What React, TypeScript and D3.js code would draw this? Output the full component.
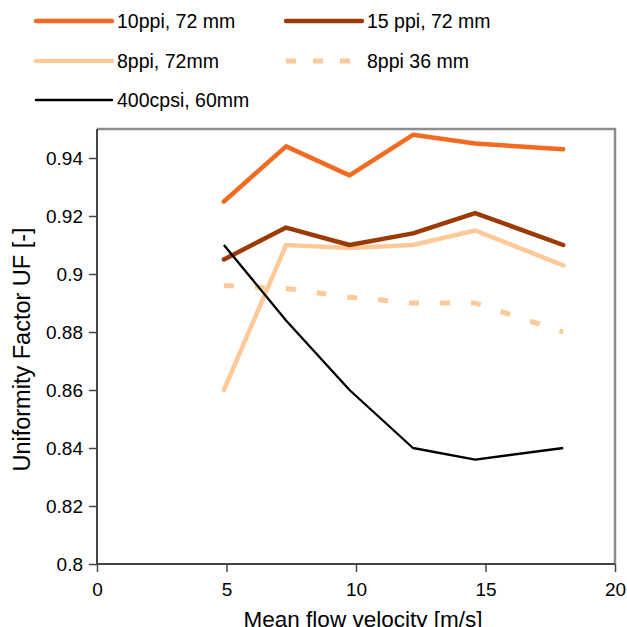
import React, { useEffect, useRef } from "react";
import * as d3 from "d3";

// mean flow velocity [m/s]
const velocity = [4.9, 7.3, 9.75, 12.2, 14.6, 18.0];

const ppi10_72 = [0.925, 0.944, 0.934, 0.948, 0.945, 0.943];
const ppi15_72 = [0.905, 0.916, 0.910, 0.914, 0.921, 0.910];
const ppi8_72 = [0.860, 0.910, 0.909, 0.910, 0.915, 0.903];
const ppi8_36 = [0.896, 0.895, 0.892, 0.890, 0.890, 0.880];
const cpsi400_60 = [0.910, 0.884, 0.860, 0.840, 0.836, 0.840];

const xTicks = [0, 5, 10, 15, 20];
const yTicks = [0.8, 0.82, 0.84, 0.86, 0.88, 0.9, 0.92, 0.94];

const W = 627;
const H = 627;
const font = "'Liberation Sans', Arial, Helvetica, sans-serif";

const series = [
  { name: "8ppi 36 mm", values: ppi8_36, color: "#fdc999", width: 5, dash: "10,21", cap: "butt" },
  { name: "8ppi, 72mm", values: ppi8_72, color: "#fdc999", width: 4.5, dash: null, cap: "round" },
  { name: "15 ppi, 72 mm", values: ppi15_72, color: "#9c3a06", width: 4.5, dash: null, cap: "round" },
  { name: "10ppi, 72 mm", values: ppi10_72, color: "#f26b21", width: 4.5, dash: null, cap: "round" },
  { name: "400cpsi, 60mm", values: cpsi400_60, color: "#000000", width: 2.3, dash: null, cap: "butt" },
];

// legend slots: [column, row]
const legendOrder = [
  { name: "10ppi, 72 mm", col: 0, row: 0 },
  { name: "15 ppi, 72 mm", col: 1, row: 0 },
  { name: "8ppi, 72mm", col: 0, row: 1 },
  { name: "8ppi 36 mm", col: 1, row: 1 },
  { name: "400cpsi, 60mm", col: 0, row: 2 },
];

export default function App() {
  const ref = useRef<SVGSVGElement>(null);

  useEffect(() => {
    const svg = d3.select(ref.current);
    svg.selectAll("*").remove();

    const x = d3.scaleLinear().domain([0, 20]).range([97, 615]);
    const y = d3.scaleLinear().domain([0.8, 0.95]).range([564, 129]);

    // frame: top/right grey
    svg.append("path")
      .attr("d", `M${x(0)},${y(0.95)}H${x(20)}V${y(0.8)}`)
      .attr("fill", "none")
      .attr("stroke", "#8c8c8c")
      .attr("stroke-width", 2.5);

    const g = svg.append("g");

    // lines
    const line = d3.line<number>()
      .x((d, i) => x(velocity[i]))
      .y((d) => y(d));

    series.forEach((s) => {
      g.append("path")
        .attr("d", line(s.values))
        .attr("fill", "none")
        .attr("stroke", s.color)
        .attr("stroke-width", s.width)
        .attr("stroke-linecap", s.cap)
        .attr("stroke-linejoin", "round")
        .attr("stroke-dasharray", s.dash);
    });

    // axes
    const xAxis = svg.append("g").attr("transform", `translate(0,${y(0.8)})`)
      .call(d3.axisBottom(x).tickValues(xTicks).tickSize(8).tickPadding(11).tickFormat(d3.format("d")));
    const yAxis = svg.append("g").attr("transform", `translate(${x(0)},0)`)
      .call(d3.axisLeft(y).tickValues(yTicks).tickSize(8).tickPadding(6).tickFormat((d) => String(+d)));

    [xAxis, yAxis].forEach((a) => {
      a.select(".domain").attr("stroke", "#444").attr("stroke-width", 2);
      a.selectAll(".tick line").attr("stroke", "#444").attr("stroke-width", 1.5);
      a.selectAll(".tick text")
        .attr("fill", "#000")
        .style("font-family", font)
        .style("font-size", "19px");
    });
    xAxis.select(".domain").attr("d", `M${x(0)},0H${x(20)}`);
    yAxis.select(".domain").attr("d", `M0,${y(0.8)}V${y(0.95)}`);

    svg.append("text")
      .attr("x", (x(0) + x(20)) / 2 + 7)
      .attr("y", 627)
      .attr("text-anchor", "middle")
      .style("font-family", font)
      .style("font-size", "22.5px")
      .text("Mean flow velocity [m/s]");

    svg.append("text")
      .attr("transform", `translate(30,${(y(0.8) + y(0.95)) / 2 + 3}) rotate(-90)`)
      .attr("text-anchor", "middle")
      .style("font-family", font)
      .style("font-size", "23.5px")
      .text("Uniformity Factor UF [-]");

    // legend
    const colX = [36, 286];
    const rowY = [21, 61, 100];
    legendOrder.forEach((l) => {
      const s = series.find((d) => d.name === l.name)!;
      const lx = colX[l.col];
      const ly = rowY[l.row];
      svg.append("line")
        .attr("x1", lx)
        .attr("x2", lx + 76)
        .attr("y1", ly)
        .attr("y2", ly)
        .attr("stroke", s.color)
        .attr("stroke-width", s.dash ? 5 : (s.width > 3 ? 4.5 : 2.5))
        .attr("stroke-linecap", s.dash ? "butt" : "round")
        .attr("stroke-dasharray", s.dash ? "10,17" : null);
      svg.append("text")
        .attr("x", lx + 81)
        .attr("y", ly + 7)
        .style("font-family", font)
        .style("font-size", "19.5px")
        .text(l.name);
    });
  }, []);

  return (
    <svg
      ref={ref}
      width={W}
      height={H}
      style={{ position: "absolute", left: 0, top: 0, background: "#fff" }}
    />
  );
}
